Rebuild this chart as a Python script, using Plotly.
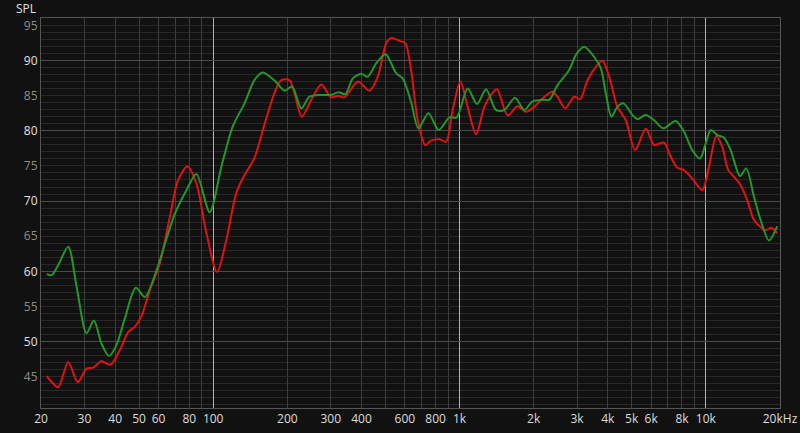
import plotly.graph_objects as go

# ---- data ----
red_freq = [21.1, 22.1, 23.5, 25.8, 28.2, 30.6, 32.6, 35.2, 38.3, 41.8, 45.2, 48.1, 51.2, 55.3, 60.7, 66.7,
            72.1, 78.6, 85.5, 93.9, 103.7, 113, 124, 134, 147, 162, 178, 189, 204, 214, 229, 250, 275, 301,
            321, 341, 358, 387, 431, 466, 504, 528, 570, 603, 636, 677, 727, 767, 829, 882, 938, 1008, 1079,
            1167, 1261, 1343, 1420, 1568, 1721, 1861, 2011, 2174, 2387, 2500, 2686, 2922, 3090, 3308, 3578,
            3805, 4050, 4375, 4732, 5163, 5705, 6164, 6768, 7204, 7662, 8155, 8811, 9675, 10302, 11026,
            11662, 12332, 13213, 13847, 14725, 15680, 16688, 17486, 18496, 19482]
red_db = [45.1, 44.25, 43.5, 47.1, 44.2, 46.15, 46.3, 47.2, 46.7, 48.8, 51.4, 52.1, 53.65, 57.3, 61.1, 67.75,
          73.0, 74.9, 72.5, 65.4, 59.9, 64.4, 71.1, 73.7, 76.1, 81.05, 85.55, 87.2, 87.2, 85.3, 82.0, 84.4, 86.6, 84.75,
          85.0, 84.75, 85.6, 87.0, 85.7, 87.7, 92.45, 93.2, 92.8, 92.45, 88.65, 81.5, 77.95, 78.6, 78.8, 78.45, 82.95, 87.0, 83.4,
          79.5, 83.4, 85.1, 85.9, 82.2, 83.5, 82.7, 83.4, 84.6, 85.55, 84.85, 83.2, 84.85, 84.5, 87.2, 89.1,
          89.97, 87.7, 83.4, 81.5, 77.25, 80.3, 78.0, 78.3, 76.3, 74.75, 74.4, 73.2, 71.55, 74.9, 79.25,
          77.7, 74.4, 73.2, 72.25, 70.1, 67.3, 66.3, 65.85, 66.2, 65.4]

green_freq = [21.1, 22.1, 23.5, 25.8, 27.9, 30.6, 32.8, 35.2, 37.8, 40.5, 43.8, 48.5, 52.8, 58.9, 64.7, 69.9,
              77.9, 85.5, 96.8, 108, 120, 134, 147, 159, 178, 195, 209, 228, 246, 275, 301, 323, 344, 369,
              399, 424, 459, 501, 553, 588, 636, 681, 748, 823, 910, 974, 1079, 1178, 1281, 1407, 1520, 1680,
              1832, 1980, 2208, 2313, 2500, 2788, 2968, 3208, 3521, 3748, 3926, 4139, 4375, 4628, 5034, 5274,
              5705, 6164, 6706, 7550, 8155, 8811, 9468, 9986, 10468, 11128, 11850, 12612, 13760, 14588,
              15680, 16688, 18032, 19482]
green_db = [59.6, 59.45, 60.9, 63.5, 57.8, 51.2, 53.0, 49.7, 47.95, 49.5, 53.3, 57.65, 56.35, 60.15, 64.7, 68.2,
            71.55, 73.85, 68.4, 74.9, 80.6, 83.9, 87.2, 88.3, 87.1, 85.7, 86.3, 83.2, 84.85, 85.1, 85.1, 85.5, 85.2, 87.45,
            88.1, 87.7, 89.6, 90.9, 88.2, 87.45, 84.1, 80.35, 82.5, 80.1, 81.9, 81.9, 86.0, 83.8, 85.9, 82.95, 82.95, 84.7,
            82.95, 84.2, 84.4, 84.4, 86.5, 88.65, 90.8, 91.95, 90.5, 88.9, 85.3, 82.0, 83.4, 83.9, 82.25, 81.65,
            82.25, 81.5, 80.35, 81.4, 79.85, 77.25, 76.05, 78.2, 80.1, 79.4, 79.0, 77.25, 73.55, 74.65,
            70.6, 67.3, 64.4, 66.4]

x_grid_vals = [20, 30, 40, 50, 60, 70, 80, 90, 100, 200, 300, 400, 500, 600, 700, 800, 900, 1000,
               2000, 3000, 4000, 5000, 6000, 7000, 8000, 9000, 10000, 20000]
x_grid_text = ["20", "30", "40", "50", "60", "", "80", "", "100", "200", "300", "400", "", "600", "", "800", "", "1k",
               "2k", "3k", "4k", "5k", "6k", "", "8k", "", "10k", "20kHz"]
bright_x = [100, 1000, 10000]

y_ticks = [45, 50, 55, 60, 65, 70, 75, 80, 85, 90, 95]
y_major = [50, 60, 70, 80, 90]

BG = "#111111"
X_RANGE = [1.30103, 4.30103]
Y_RANGE = [40.55, 96.05]

fig = go.Figure()
# empty helper trace keeps the base subplot
fig.add_trace(go.Scatter(x=[], y=[], mode="lines", showlegend=False, hoverinfo="skip"))
# curves live on the overlay axes (same ranges) so they sit above the bright grid lines
fig.add_trace(go.Scatter(x=red_freq, y=red_db, mode="lines", xaxis="x2", yaxis="y2",
                         line=dict(color="#e01212", width=2, shape="spline", smoothing=0.8),
                         showlegend=False, hoverinfo="skip"))
fig.add_trace(go.Scatter(x=green_freq, y=green_db, mode="lines", xaxis="x2", yaxis="y2",
                         line=dict(color="#24962a", width=2, shape="spline", smoothing=0.8),
                         showlegend=False, hoverinfo="skip"))

y_text = []
for v in y_ticks:
    col = "#e0e0e0" if v % 10 == 0 else "#8c8c8c"
    y_text.append(f"<span style='color:{col}'>{v}</span>")

fig.update_layout(
    width=800, height=433,
    paper_bgcolor=BG, plot_bgcolor=BG,
    margin=dict(l=41, r=20, t=18, b=25, autoexpand=False),
    font=dict(family="Open Sans, DejaVu Sans, sans-serif", size=12, color="#dcdcdc"),
    xaxis=dict(type="log", range=X_RANGE, tickmode="array",
               tickvals=x_grid_vals, ticktext=x_grid_text, automargin=False,
               showgrid=True, gridcolor="#3e3e3e", gridwidth=1,
               showline=True, linecolor="#555555", mirror=True,
               ticks="", zeroline=False, tickfont=dict(color="#dcdcdc", size=12)),
    xaxis2=dict(type="log", range=X_RANGE, overlaying="x", anchor="y2", side="bottom",
                tickmode="array", tickvals=bright_x, showticklabels=False, ticks="",
                showgrid=True, gridcolor="#b0b0b0", gridwidth=1, zeroline=False,
                showline=False, automargin=False),
    yaxis=dict(range=Y_RANGE, tickmode="array", tickvals=y_ticks, ticktext=y_text,
               automargin=False,
               showgrid=True, gridcolor="#282828", gridwidth=1,
               minor=dict(dtick=1, showgrid=True, gridcolor="#282828"),
               showline=True, linecolor="#555555", mirror=True,
               ticks="", zeroline=False, tickfont=dict(size=12)),
    yaxis2=dict(range=Y_RANGE, overlaying="y", anchor="x2", side="left",
                tickmode="array", tickvals=y_major, showticklabels=False, ticks="",
                showgrid=True, gridcolor="#4a4a4a", gridwidth=1, zeroline=False,
                showline=False, automargin=False),
    annotations=[dict(text="SPL", xref="paper", yref="paper", x=0, y=1, xanchor="right",
                      yanchor="middle", xshift=-3, yshift=10, showarrow=False,
                      font=dict(color="#e0e0e0", size=12))],
)

fig.write_html("out.html",
               config={"displayModeBar": False},
               post_script="document.body.style.margin='0px';document.body.style.padding='0px';"
                           "document.body.style.overflow='hidden';"
                           "document.body.style.background='#111111';")
